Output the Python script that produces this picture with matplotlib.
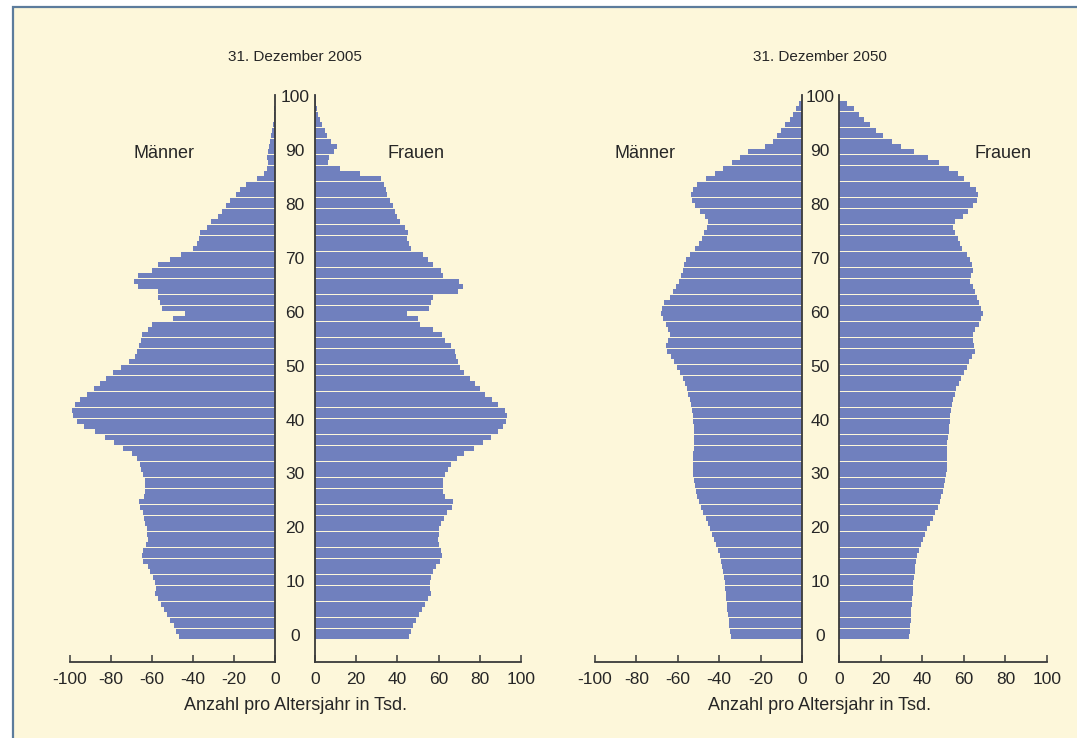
import matplotlib
matplotlib.use("Agg")
import matplotlib.pyplot as plt
from matplotlib.patches import Rectangle
from matplotlib.transforms import blended_transform_factory
import numpy as np

plt.rcParams['font.family'] = ['Liberation Sans', 'DejaVu Sans']

ages = list(range(0, 101))

# 31. Dezember 2005 (Tsd.)
men_2005 = [47, 48.5, 49.5, 51, 52.5, 54, 55.5, 57, 58.5, 58,
            58.5, 59.5, 61, 62, 64.5, 65, 64.5, 63, 62, 62.5,
            62.5, 63.5, 64, 64.5, 66, 66.5, 64, 63.5, 63.5, 63.5,
            64.5, 65.5, 66, 67.5, 70, 74, 78.5, 83, 88, 93,
            96.5, 98.5, 99, 97.5, 95, 91.5, 88.5, 85.5, 82.5, 79,
            75, 71, 68.5, 67.5, 66.5, 65.5, 65, 62, 60, 50,
            44, 55, 56, 57, 57, 67, 69, 67, 60, 57,
            51, 46, 40, 38, 37, 36.5, 33, 31, 28, 26,
            24, 22, 19, 17, 14, 9, 5.5, 4, 3.5, 4,
            3.5, 3, 2.2, 1.8, 1.3, 1.0, 0.7, 0.5, 0.3, 0.2, 0.1]
women_2005 = [45.5, 46.5, 47.5, 49, 50.5, 52, 53.5, 55, 56.5, 56,
              56, 56.5, 57.5, 58.5, 60.5, 61.5, 61, 60, 59.5, 60,
              60, 61, 62.5, 64, 66.5, 67, 63, 62, 62, 62,
              63, 64.5, 66, 69, 72.5, 77, 81.5, 85.5, 89, 91.5,
              92.5, 93, 92, 89, 86, 82.5, 80, 77.5, 75, 72.5,
              70.5, 69.5, 68.5, 68, 66, 63, 61.5, 57.5, 51, 50,
              44.5, 55.5, 56.5, 57.5, 69.5, 72, 70, 62, 61, 57.5,
              55, 52.5, 46.5, 45.5, 44.5, 45, 43.5, 41.5, 40, 39,
              38, 36.5, 35, 34.5, 33.5, 32, 22, 12, 6.5, 7,
              9, 10.5, 8, 6, 5, 3.5, 2.5, 1.5, 1, 0.5, 0.3]

# 31. Dezember 2050 (Tsd.)
men_2050 = [34.5, 35, 35.2, 35.5, 35.8, 36, 36.3, 36.5, 36.8, 37,
            37.3, 37.6, 38, 38.5, 39, 39.8, 40.6, 41.4, 42.3, 43.3,
            44.3, 45.4, 46.5, 47.6, 48.6, 49.6, 50.5, 51.2, 51.8, 52.3,
            52.6, 52.8, 52.8, 52.7, 52.5, 52.3, 52.2, 52.2, 52.2, 52.3,
            52.5, 52.8, 53.2, 53.7, 54.3, 55, 55.7, 56.5, 57.5, 58.8,
            60.2, 61.8, 63.5, 65, 65.5, 64.5, 63.8, 64.5, 65.5, 67,
            68, 67.5, 66.5, 64, 62.5, 61, 59.5, 58.5, 57.5, 57,
            56, 54, 51.5, 50, 48.5, 47.5, 46, 45.5, 47, 49.5,
            51.5, 53, 53.5, 52.5, 50.5, 46.5, 42, 38, 34, 30,
            26, 18, 14, 12, 10, 8, 6, 4.5, 3, 1.5, 0]
women_2050 = [33.8, 34, 34.2, 34.4, 34.6, 34.8, 35, 35.2, 35.4, 35.6,
              35.8, 36, 36.3, 36.6, 37, 37.6, 38.3, 39.2, 40.2, 41.3,
              42.5, 43.8, 45.1, 46.3, 47.4, 48.4, 49.2, 49.9, 50.5, 51,
              51.4, 51.7, 51.8, 51.8, 51.8, 51.9, 52.1, 52.4, 52.7, 53,
              53.3, 53.6, 54, 54.4, 55, 55.6, 56.3, 57.5, 58.8, 60.3,
              61.5, 62.5, 64, 65.5, 65, 64.5, 64.2, 65.5, 67.5, 68.5,
              69.3, 68.5, 67.5, 66.5, 65.5, 64.5, 63, 63.5, 64.5, 64,
              63, 61.5, 59, 58, 57, 56, 55, 56, 59.5, 62,
              64.5, 66.5, 67, 66, 63, 60, 57, 53, 48, 43,
              36, 30, 25.5, 21, 18, 15, 12, 9.5, 7, 4, 0]

titles = ["31. Dezember 2005", "31. Dezember 2050"]
men_ticks = [-100, -80, -60, -40, -20, 0]
men_ticklabels = ["-100", "-80", "-60", "-40", "-20", "0"]
women_ticks = [0, 20, 40, 60, 80, 100]
women_ticklabels = ["0", "20", "40", "60", "80", "100"]
age_ticks = [0, 10, 20, 30, 40, 50, 60, 70, 80, 90, 100]
xlabel_text = "Anzahl pro Altersjahr in Tsd."

W, H = 1077, 738
BG = "#FDF7DA"
BAR = "#7080BE"
LINE = "#3A3A3A"
TXT = "#262626"
FS_TICK = 12.5
FS_AGE = 12.5
FS_LAB = 13
FS_TITLE = 11

fig = plt.figure(figsize=(W / 100, H / 100), dpi=100, facecolor="white")
fig.patches.append(Rectangle((13 / W, -0.1), 1.2, 1 - 7 / H + 0.1,
                             transform=fig.transFigure, facecolor=BG,
                             edgecolor="#5C7C9C", linewidth=1.6, zorder=-10))

y_top, y_bot = 95, 662
age0_px = 636.5
px_per_year = 5.385
ylim = (-(y_bot - age0_px) / px_per_year, (age0_px - y_top) / px_per_year)


def make_ax(x0, x1):
    ax = fig.add_axes([x0 / W, 1 - y_bot / H, (x1 - x0) / W, (y_bot - y_top) / H])
    ax.set_zorder(5)
    ax.set_facecolor("none")
    ax.patch.set_alpha(0)
    ax.set_ylim(*ylim)
    ax.set_yticks([])
    ax.spines["top"].set_visible(False)
    for s in ax.spines.values():
        s.set_color(LINE)
        s.set_linewidth(1.3)
    ax.tick_params(axis="x", direction="in", length=5, width=1.1, color=LINE,
                   pad=7, labelsize=FS_TICK, labelcolor=TXT)
    return ax


panels = [
    (men_2005, women_2005, (70, 275), (315, 521), 295),
    (men_2050, women_2050, (595, 802), (839, 1047), 820),
]

for i, (men, women, mx, wx, cx) in enumerate(panels):
    axm = make_ax(*mx)
    axm.barh(ages, [-v for v in men], height=0.93, color=BAR, linewidth=0)
    axm.set_xlim(-100, 0)
    axm.spines["left"].set_visible(False)
    axm.set_xticks(men_ticks)
    axm.set_xticklabels(men_ticklabels)

    axw = make_ax(*wx)
    axw.barh(ages, women, height=0.93, color=BAR, linewidth=0)
    axw.set_xlim(0, 100)
    axw.spines["right"].set_visible(False)
    axw.set_xticks(women_ticks)
    axw.set_xticklabels(women_ticklabels)

    tr = blended_transform_factory(fig.transFigure, axm.transData)
    for a in age_ticks:
        fig.text(cx / W, a, str(a), transform=tr, ha="center", va="center",
                 fontsize=FS_AGE, color=TXT)

    fig.text(cx / W, 1 - 57 / H, titles[i], ha="center", va="center",
             fontsize=FS_TITLE, color=TXT)
    fig.text(cx / W, 1 - 705 / H, xlabel_text, ha="center", va="center",
             fontsize=FS_LAB, color=TXT)

fig.text(164 / W, 1 - 153 / H, "Männer", ha="center", va="center", fontsize=FS_LAB, color=TXT)
fig.text(416 / W, 1 - 153 / H, "Frauen", ha="center", va="center", fontsize=FS_LAB, color=TXT)
fig.text(645 / W, 1 - 153 / H, "Männer", ha="center", va="center", fontsize=FS_LAB, color=TXT)
fig.text(1003 / W, 1 - 153 / H, "Frauen", ha="center", va="center", fontsize=FS_LAB, color=TXT)

fig.savefig("out.png", dpi=100, facecolor=fig.get_facecolor())
